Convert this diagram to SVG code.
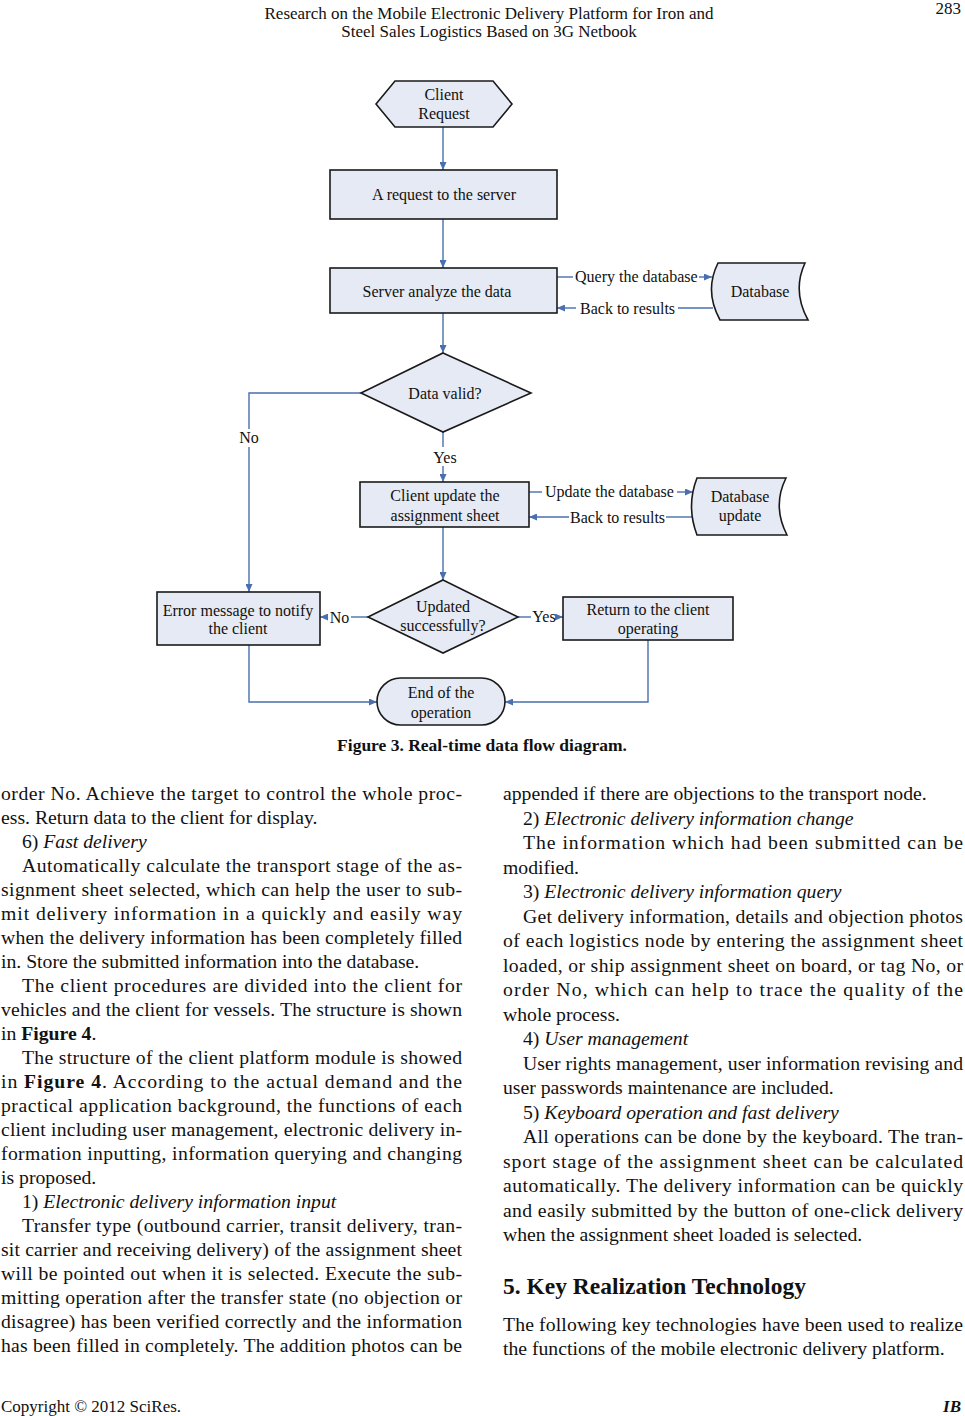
<svg xmlns="http://www.w3.org/2000/svg" width="965" height="1416" viewBox="0 0 965 1416">
<style>
.nd{fill:#e6eaf4;stroke:#1a1a1a;stroke-width:1.6}
.t{font-family:"Liberation Serif","Times New Roman",serif;font-size:16px;fill:#111}
.c{text-anchor:middle}
.cn{fill:none;stroke:#4a6fae;stroke-width:1.4}
.b{font-family:"Liberation Serif","Times New Roman",serif;font-size:19.7px;fill:#111}
.hd{font-family:"Liberation Serif","Times New Roman",serif;font-size:17px;fill:#111}
.i{font-style:italic}
.bo{font-weight:bold}
</style>
<defs>
<marker id="ar" viewBox="0 0 8 7" refX="8" refY="3.5" markerWidth="8" markerHeight="7" markerUnits="userSpaceOnUse" orient="auto">
<path d="M0,0 L8,3.5 L0,7 z" fill="#4a6fae"/>
</marker>
</defs>
<rect width="965" height="1416" fill="#ffffff"/>

<!-- header -->
<g id="header">
<text class="hd c" x="489" y="19">Research on the Mobile Electronic Delivery Platform for Iron and</text>
<text class="hd c" x="489" y="37">Steel Sales Logistics Based on 3G Netbook</text>
<text class="hd" x="961" y="14" text-anchor="end">283</text>
</g>

<!-- connectors -->
<g id="connectors">
<path class="cn" d="M443,127 V170" marker-end="url(#ar)"/>
<path class="cn" d="M443,219 V268" marker-end="url(#ar)"/>
<path class="cn" d="M443,313 V353" marker-end="url(#ar)"/>
<path class="cn" d="M557,277 H573"/>
<path class="cn" d="M699,277 H712" marker-end="url(#ar)"/>
<path class="cn" d="M576,308 H557" marker-end="url(#ar)"/>
<path class="cn" d="M678,308 H713"/>
<path class="cn" d="M361,393 H249 V429"/>
<path class="cn" d="M249,447 V592" marker-end="url(#ar)"/>
<path class="cn" d="M443,432 V447"/>
<path class="cn" d="M443,466 V482" marker-end="url(#ar)"/>
<path class="cn" d="M529,492 H542"/>
<path class="cn" d="M677,492 H693" marker-end="url(#ar)"/>
<path class="cn" d="M569,517 H529" marker-end="url(#ar)"/>
<path class="cn" d="M666,517 H694"/>
<path class="cn" d="M443,527 V580" marker-end="url(#ar)"/>
<path class="cn" d="M368,617 H351"/>
<path class="cn" d="M328,617 H320" marker-end="url(#ar)"/>
<path class="cn" d="M518,617 H531"/>
<path class="cn" d="M556,617 H563" marker-end="url(#ar)"/>
<path class="cn" d="M249,645 V702 H377" marker-end="url(#ar)"/>
<path class="cn" d="M648,640 V702 H505" marker-end="url(#ar)"/>
<text class="t" x="575" y="282">Query the database</text>
<text class="t" x="580" y="313.5">Back to results</text>
<text class="t c" x="249" y="442.5">No</text>
<text class="t c" x="445" y="462.5">Yes</text>
<text class="t" x="545" y="497">Update the database</text>
<text class="t" x="570" y="522.5">Back to results</text>
<text class="t c" x="339.5" y="623">No</text>
<text class="t c" x="544" y="622">Yes</text>
</g>

<!-- nodes -->
<g id="client-request">
<polygon class="nd" points="376,104 395,81 493,81 512,104 493,127 395,127"/>
<text class="t c" x="444" y="100">Client</text>
<text class="t c" x="444" y="119">Request</text>
</g>
<g id="request-server">
<rect class="nd" x="330" y="170" width="227" height="49"/>
<text class="t c" x="444" y="199.5">A request to the server</text>
</g>
<g id="server-analyze">
<rect class="nd" x="330" y="268" width="227" height="45"/>
<text class="t c" x="437" y="296.5">Server analyze the data</text>
</g>
<g id="database">
<path class="nd" d="M718,263 H805 Q792,291 808,320 H720 Q704,291 718,263 Z"/>
<text class="t c" x="760" y="296.5">Database</text>
</g>
<g id="data-valid">
<polygon class="nd" points="443,353 531,393 443,432 361,393"/>
<text class="t c" x="445" y="398.5">Data valid?</text>
</g>
<g id="client-update">
<rect class="nd" x="360" y="482" width="169" height="45"/>
<text class="t c" x="445" y="500.5">Client update the</text>
<text class="t c" x="445" y="520.5">assignment sheet</text>
</g>
<g id="database-update">
<path class="nd" d="M697,478 H786 Q772,506 787,535 H697 Q686,506 697,478 Z"/>
<text class="t c" x="740" y="502">Database</text>
<text class="t c" x="740" y="521">update</text>
</g>
<g id="updated-successfully">
<polygon class="nd" points="443,580 518,617 443,653 368,617"/>
<text class="t c" x="443" y="612">Updated</text>
<text class="t c" x="443" y="630.5">successfully?</text>
</g>
<g id="error-message">
<rect class="nd" x="157" y="592" width="163" height="53"/>
<text class="t c" x="238" y="615.5">Error message to notify</text>
<text class="t c" x="238" y="633.5">the client</text>
</g>
<g id="return-client">
<rect class="nd" x="563" y="597" width="170" height="43"/>
<text class="t c" x="648" y="614.5">Return to the client</text>
<text class="t c" x="648" y="633.5">operating</text>
</g>
<g id="end-operation">
<rect class="nd" x="377" y="678" width="128" height="47" rx="23.5" ry="23.5"/>
<text class="t c" x="441" y="697.5">End of the</text>
<text class="t c" x="441" y="717.5">operation</text>
</g>

<!-- caption -->
<text class="b bo c" x="482" y="751" style="font-size:17.5px">Figure 3. Real-time data flow diagram.</text>

<!-- left column -->
<g id="left-column">
<text class="b" x="1" y="800" textLength="461" lengthAdjust="spacing">order No. Achieve the target to control the whole proc-</text>
<text class="b" x="1" y="824">ess. Return data to the client for display.</text>
<text class="b" x="22" y="848">6) <tspan class="i">Fast delivery</tspan></text>
<text class="b" x="22" y="872" textLength="440" lengthAdjust="spacing">Automatically calculate the transport stage of the as-</text>
<text class="b" x="1" y="896" textLength="461" lengthAdjust="spacing">signment sheet selected, which can help the user to sub-</text>
<text class="b" x="1" y="920" textLength="461" lengthAdjust="spacing">mit delivery information in a quickly and easily way</text>
<text class="b" x="1" y="944" textLength="461" lengthAdjust="spacing">when the delivery information has been completely filled</text>
<text class="b" x="1" y="968">in. Store the submitted information into the database.</text>
<text class="b" x="22" y="992" textLength="440" lengthAdjust="spacing">The client procedures are divided into the client for</text>
<text class="b" x="1" y="1016" textLength="461" lengthAdjust="spacing">vehicles and the client for vessels. The structure is shown</text>
<text class="b" x="1" y="1040">in <tspan class="bo">Figure 4</tspan>.</text>
<text class="b" x="22" y="1064" textLength="440" lengthAdjust="spacing">The structure of the client platform module is showed</text>
<text class="b" x="1" y="1088" textLength="461" lengthAdjust="spacing">in <tspan class="bo">Figure 4</tspan>. According to the actual demand and the</text>
<text class="b" x="1" y="1112" textLength="461" lengthAdjust="spacing">practical application background, the functions of each</text>
<text class="b" x="1" y="1136" textLength="461" lengthAdjust="spacing">client including user management, electronic delivery in-</text>
<text class="b" x="1" y="1160" textLength="461" lengthAdjust="spacing">formation inputting, information querying and changing</text>
<text class="b" x="1" y="1184">is proposed.</text>
<text class="b" x="22" y="1208">1) <tspan class="i">Electronic delivery information input</tspan></text>
<text class="b" x="22" y="1232" textLength="440" lengthAdjust="spacing">Transfer type (outbound carrier, transit delivery, tran-</text>
<text class="b" x="1" y="1256" textLength="461" lengthAdjust="spacing">sit carrier and receiving delivery) of the assignment sheet</text>
<text class="b" x="1" y="1280" textLength="461" lengthAdjust="spacing">will be pointed out when it is selected. Execute the sub-</text>
<text class="b" x="1" y="1304" textLength="461" lengthAdjust="spacing">mitting operation after the transfer state (no objection or</text>
<text class="b" x="1" y="1328" textLength="461" lengthAdjust="spacing">disagree) has been verified correctly and the information</text>
<text class="b" x="1" y="1352" textLength="461" lengthAdjust="spacing">has been filled in completely. The addition photos can be</text>
</g>

<!-- right column -->
<g id="right-column">
<text class="b" x="503" y="800">appended if there are objections to the transport node.</text>
<text class="b" x="523" y="824.5">2) <tspan class="i">Electronic delivery information change</tspan></text>
<text class="b" x="523" y="849" textLength="440" lengthAdjust="spacing">The information which had been submitted can be</text>
<text class="b" x="503" y="873.5">modified.</text>
<text class="b" x="523" y="898">3) <tspan class="i">Electronic delivery information query</tspan></text>
<text class="b" x="523" y="922.5" textLength="440" lengthAdjust="spacing">Get delivery information, details and objection photos</text>
<text class="b" x="503" y="947" textLength="460" lengthAdjust="spacing">of each logistics node by entering the assignment sheet</text>
<text class="b" x="503" y="971.5" textLength="460" lengthAdjust="spacing">loaded, or ship assignment sheet on board, or tag No, or</text>
<text class="b" x="503" y="996" textLength="460" lengthAdjust="spacing">order No, which can help to trace the quality of the</text>
<text class="b" x="503" y="1020.5">whole process.</text>
<text class="b" x="523" y="1045">4) <tspan class="i">User management</tspan></text>
<text class="b" x="523" y="1069.5" textLength="440" lengthAdjust="spacing">User rights management, user information revising and</text>
<text class="b" x="503" y="1094">user passwords maintenance are included.</text>
<text class="b" x="523" y="1118.5">5) <tspan class="i">Keyboard operation and fast delivery</tspan></text>
<text class="b" x="523" y="1143" textLength="440" lengthAdjust="spacing">All operations can be done by the keyboard. The tran-</text>
<text class="b" x="503" y="1167.5" textLength="460" lengthAdjust="spacing">sport stage of the assignment sheet can be calculated</text>
<text class="b" x="503" y="1192" textLength="460" lengthAdjust="spacing">automatically. The delivery information can be quickly</text>
<text class="b" x="503" y="1216.5" textLength="460" lengthAdjust="spacing">and easily submitted by the button of one-click delivery</text>
<text class="b" x="503" y="1241">when the assignment sheet loaded is selected.</text>
<text class="b bo" x="503" y="1294" style="font-size:23.5px">5. Key Realization Technology</text>
<text class="b" x="503" y="1331" textLength="460" lengthAdjust="spacing">The following key technologies have been used to realize</text>
<text class="b" x="503" y="1355">the functions of the mobile electronic delivery platform.</text>
</g>

<!-- footer -->
<g id="footer">
<text class="hd" x="1" y="1412">Copyright © 2012  SciRes.</text>
<text class="hd bo i" x="961" y="1412" text-anchor="end">IB</text>
</g>
</svg>
